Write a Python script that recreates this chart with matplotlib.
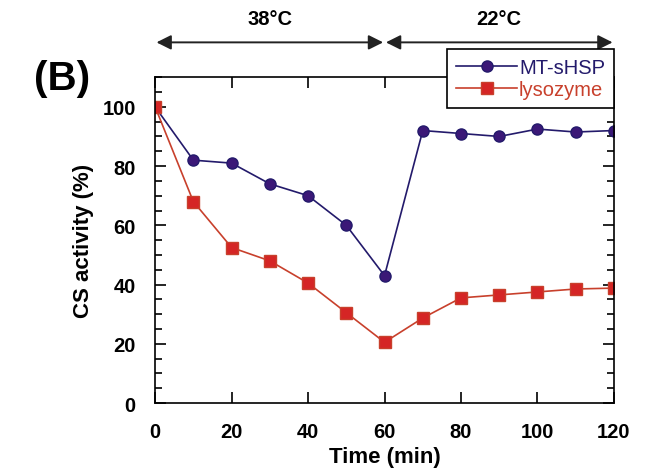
import matplotlib.pyplot as plt
from matplotlib.ticker import MultipleLocator
import matplotlib.transforms as mtransforms

plt.rcParams['font.family'] = ['Liberation Sans', 'DejaVu Sans']

# data
time_min = [0, 10, 20, 30, 40, 50, 60, 70, 80, 90, 100, 110, 120]
mt_shsp = [100, 82, 81, 74, 70, 60, 43, 92, 91, 90, 92.5, 91.5, 92]
lysozyme = [100, 68, 52.5, 48, 40.5, 30.5, 20.5, 28.7, 35.5, 36.5, 37.5, 38.5, 38.8]

phase_edges = [0, 60, 120]
phase_labels = ['38°C', '22°C']

fig = plt.figure(figsize=(6.49, 4.77), dpi=100)
ax = fig.add_axes([0.239, 0.153, 0.707, 0.683])

ax.plot(time_min, mt_shsp, color='#231a6b', lw=1.2, marker='o', ms=8,
        mfc='#3b1877', mec='#231a6b', label='MT-sHSP')
ax.plot(time_min, lysozyme, color='#c8402c', lw=1.2, marker='s', ms=8,
        mfc='#d52525', mec='#c8402c', label='lysozyme')

ax.set_xlim(0, 120)
ax.set_ylim(0, 110)
ax.xaxis.set_major_locator(MultipleLocator(20))
ax.yaxis.set_major_locator(MultipleLocator(20))
ax.yaxis.set_minor_locator(MultipleLocator(5))
ax.tick_params(which='both', direction='in', top=True, right=True,
               width=1.2, labelsize=14.5, pad=14)
ax.tick_params(which='major', length=8)
ax.tick_params(which='minor', length=5)
for lab in ax.get_xticklabels() + ax.get_yticklabels():
    lab.set_fontweight('bold')
for sp in ax.spines.values():
    sp.set_linewidth(1.2)

ax.set_xlabel('Time (min)', fontsize=16, fontweight='bold', labelpad=3)
ax.set_ylabel('CS activity (%)', fontsize=16, fontweight='bold', labelpad=6)

leg = ax.legend(loc='upper right', bbox_to_anchor=(1.0, 1.086), borderaxespad=0,
                fancybox=False, edgecolor='black', framealpha=1, fontsize=14.5,
                handlelength=3.0, handletextpad=0.1, borderpad=0.45, labelspacing=0.15)
leg.get_frame().set_linewidth(1.2)
for txt, c in zip(leg.get_texts(), ['#231a6b', '#c8402c']):
    txt.set_color(c)

# temperature phase arrows above the plot
trans = mtransforms.blended_transform_factory(ax.transData, ax.transAxes)
for i, lab in enumerate(phase_labels):
    x0, x1 = phase_edges[i], phase_edges[i + 1]
    ax.annotate('', xy=(x1, 1.107), xytext=(x0, 1.107), xycoords=trans,
                textcoords=trans,
                arrowprops=dict(arrowstyle='<|-|>', color='#222222', lw=1.4,
                                mutation_scale=22, shrinkA=1, shrinkB=1))
    ax.text((x0 + x1) / 2, 1.18, lab, transform=trans, ha='center',
            va='center', fontsize=14.5, fontweight='bold')

fig.text(0.052, 0.835, '(B)', fontsize=29, fontweight='bold', va='center')

fig.savefig('out.png', dpi=100)
